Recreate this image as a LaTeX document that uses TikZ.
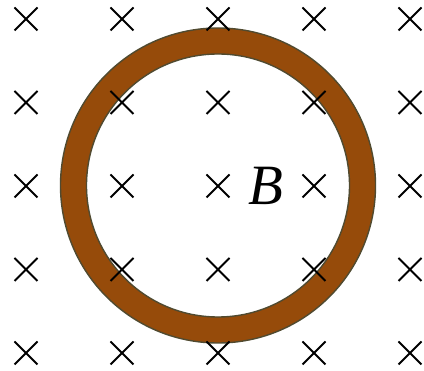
\documentclass[tikz,border=0pt]{standalone}
\usepackage{fontspec}
\setmainfont{Liberation Serif}
\definecolor{ringfill}{RGB}{150,75,10}
\definecolor{ringline}{RGB}{80,74,48}
\begin{document}
\begin{tikzpicture}[x=1pt,y=-1pt,
  crossmark/.style={draw=black,line width=1.9pt,line cap=butt},
  ringstyle/.style={fill=ringfill,draw=ringline,line width=1.4pt,even odd rule}]
\useasboundingbox (0,0) rectangle (424,371);
\coordinate (c) at (218,185.5);
\path[ringstyle] (c) circle[radius=157.5] (c) circle[radius=131.5];
\foreach \i/\x in {1/26,2/122,3/218,4/314,5/410}{
  \foreach \j/\y in {1/19,2/102.5,3/186,4/269.5,5/353}{
    \coordinate (p\i\j) at (\x,\y);
    \draw[crossmark] ([shift={(-11.5,-11.5)}]p\i\j) -- ([shift={(11.5,11.5)}]p\i\j)
                     ([shift={(-11.5,11.5)}]p\i\j) -- ([shift={(11.5,-11.5)}]p\i\j);
  }
}
\node[font=\fontsize{57}{57}\selectfont\itshape,inner sep=0pt,anchor=base] (B) at (266,205) {B};
\end{tikzpicture}
\end{document}
